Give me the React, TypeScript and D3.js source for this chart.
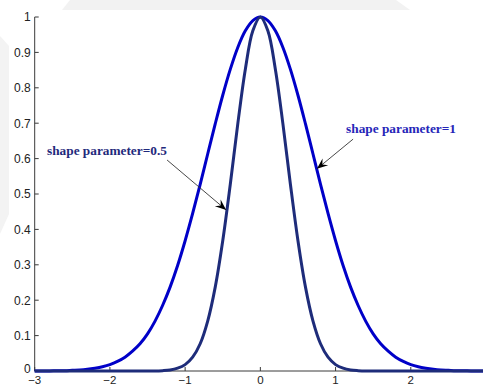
import React from "react";
import * as d3 from "d3";

// Sample positions along the x axis
const X_VALUES = [
  -3.0, -2.9, -2.8, -2.7, -2.6, -2.5, -2.4, -2.3, -2.2, -2.1,
  -2.0, -1.9, -1.8, -1.7, -1.6, -1.5, -1.4, -1.3, -1.2, -1.1,
  -1.0, -0.9, -0.8, -0.7, -0.6, -0.5, -0.4, -0.3, -0.2, -0.1,
  0.0,
  0.1, 0.2, 0.3, 0.4, 0.5, 0.6, 0.7, 0.8, 0.9, 1.0,
  1.1, 1.2, 1.3, 1.4, 1.5, 1.6, 1.7, 1.8, 1.9, 2.0,
  2.1, 2.2, 2.3, 2.4, 2.5, 2.6, 2.7, 2.8, 2.9, 3.0,
];

// Basis function with shape parameter = 1
const SHAPE_1 = [
  0, 0, 0, 0.001, 0.001, 0.002, 0.003, 0.005, 0.008, 0.012,
  0.018, 0.027, 0.039, 0.056, 0.077, 0.105, 0.141, 0.185, 0.237, 0.298,
  0.368, 0.445, 0.527, 0.613, 0.698, 0.779, 0.852, 0.914, 0.961, 0.99,
  1,
  0.99, 0.961, 0.914, 0.852, 0.779, 0.698, 0.613, 0.527, 0.445, 0.368,
  0.298, 0.237, 0.185, 0.141, 0.105, 0.077, 0.056, 0.039, 0.027, 0.018,
  0.012, 0.008, 0.005, 0.003, 0.002, 0.001, 0.001, 0, 0, 0,
];

// Basis function with shape parameter = 0.5
const SHAPE_05 = [
  0, 0, 0, 0, 0, 0, 0, 0, 0, 0,
  0, 0, 0, 0, 0, 0, 0, 0.001, 0.003, 0.008,
  0.018, 0.039, 0.077, 0.141, 0.237, 0.368, 0.527, 0.698, 0.852, 0.961,
  1,
  0.961, 0.852, 0.698, 0.527, 0.368, 0.237, 0.141, 0.077, 0.039, 0.018,
  0.008, 0.003, 0.001, 0, 0, 0, 0, 0, 0, 0,
  0, 0, 0, 0, 0, 0, 0, 0, 0, 0,
];

const X_TICKS = [-3, -2, -1, 0, 1, 2, 3];
const Y_TICKS = [0, 0.1, 0.2, 0.3, 0.4, 0.5, 0.6, 0.7, 0.8, 0.9, 1];

// Annotation text and arrow anchors in data units
const NOTE_LABELS = ["shape parameter=0.5", "shape parameter=1"];
const NOTE_TEXT_X = [-2.836, 1.14];
const NOTE_TEXT_Y = [0.61, 0.672];
const NOTE_TAIL_X = [-1.24, 1.233];
const NOTE_TAIL_Y = [0.596, 0.655];
const NOTE_TIP_X = [-0.455, 0.752];
const NOTE_TIP_Y = [0.455, 0.571];

const W = 483;
const H = 387;

export default function App() {
  const x = d3.scaleLinear().domain([-3, 3]).range([34.7, 486]);
  const y = d3.scaleLinear().domain([0, 1]).range([371, 17]);

  const line = d3
    .line<number>()
    .x((_, i) => x(X_VALUES[i]))
    .y((d) => y(d))
    .curve(d3.curveCatmullRom.alpha(0.5));

  const axisColor = "#3a3a3a";
  const tickFont = "'Liberation Sans', Arial, Helvetica, sans-serif";
  const fmtX = (v: number) => (v < 0 ? "\u2212" + Math.abs(v) : String(v));
  const fmtY = (v: number) => (v === 0 || v === 1 ? String(v) : d3.format(".1f")(v));

  const noteColors = ["#1f2a7c", "#2626b8"];

  const arrowHead = (tx: number, ty: number, fx: number, fy: number) => {
    const ang = Math.atan2(ty - fy, tx - fx);
    const len = 11;
    const half = 4.5;
    const back = 7;
    const ca = Math.cos(ang);
    const sa = Math.sin(ang);
    const bx = tx - len * ca;
    const by = ty - len * sa;
    const nx = tx - back * ca;
    const ny = ty - back * sa;
    const p1 = [bx - half * -sa, by - half * ca];
    const p2 = [bx + half * -sa, by + half * ca];
    return `M${tx},${ty}L${p1[0]},${p1[1]}L${nx},${ny}L${p2[0]},${p2[1]}Z`;
  };

  return (
    <svg
      width={W}
      height={H}
      style={{ position: "absolute", left: 0, top: 0, background: "#fff" }}
    >
      {/* faint background band */}
      <polygon points="70,0 396,0 410,10 62,10" fill="#f2f2f2" />
      <polygon points="0,36 9,46 9,214 0,234" fill="#f3f3f3" />

      {/* axes */}
      <line x1={x(-3)} x2={W} y1={y(0)} y2={y(0)} stroke={axisColor} strokeWidth={1} />
      <line x1={x(-3)} x2={x(-3)} y1={y(0)} y2={y(1)} stroke={axisColor} strokeWidth={1} />

      {Y_TICKS.map((t) => (
        <g key={"y" + t}>
          <line x1={x(-3)} x2={x(-3) + 4} y1={y(t)} y2={y(t)} stroke={axisColor} />
          <text
            x={x(-3) - 4}
            y={t === 0 ? y(t) - 2 : y(t)}
            dy="0.36em"
            textAnchor="end"
            fontFamily={tickFont}
            fontSize={12}
            fill="#222"
          >
            {fmtY(t)}
          </text>
        </g>
      ))}

      {X_TICKS.filter((t) => x(t) < W).map((t) => (
        <g key={"x" + t}>
          <line x1={x(t)} x2={x(t)} y1={y(0)} y2={y(0) - 4} stroke={axisColor} />
          <text
            x={Math.max(x(t), 9)}
            y={384}
            textAnchor="middle"
            fontFamily={tickFont}
            fontSize={11.5}
            fill="#222"
          >
            {fmtX(t)}
          </text>
        </g>
      ))}

      {/* curves */}
      <path d={line(SHAPE_1) || ""} fill="none" stroke="#0000c8" strokeWidth={3} />
      <path d={line(SHAPE_05) || ""} fill="none" stroke="#1e2c7a" strokeWidth={3} />

      {/* annotations */}
      {NOTE_LABELS.map((label, i) => {
        const tx = x(NOTE_TIP_X[i]);
        const ty = y(NOTE_TIP_Y[i]);
        const fx = x(NOTE_TAIL_X[i]);
        const fy = y(NOTE_TAIL_Y[i]);
        return (
          <g key={label}>
            <line x1={fx} y1={fy} x2={tx} y2={ty} stroke="#333" strokeWidth={0.9} />
            <path d={arrowHead(tx, ty, fx, fy)} fill="#000" />
            <text
              x={x(NOTE_TEXT_X[i])}
              y={y(NOTE_TEXT_Y[i])}
              fontFamily="'Liberation Serif', 'Times New Roman', serif"
              fontWeight="bold"
              fontSize={13.3}
              fill={noteColors[i]}
            >
              {label}
            </text>
          </g>
        );
      })}
    </svg>
  );
}
